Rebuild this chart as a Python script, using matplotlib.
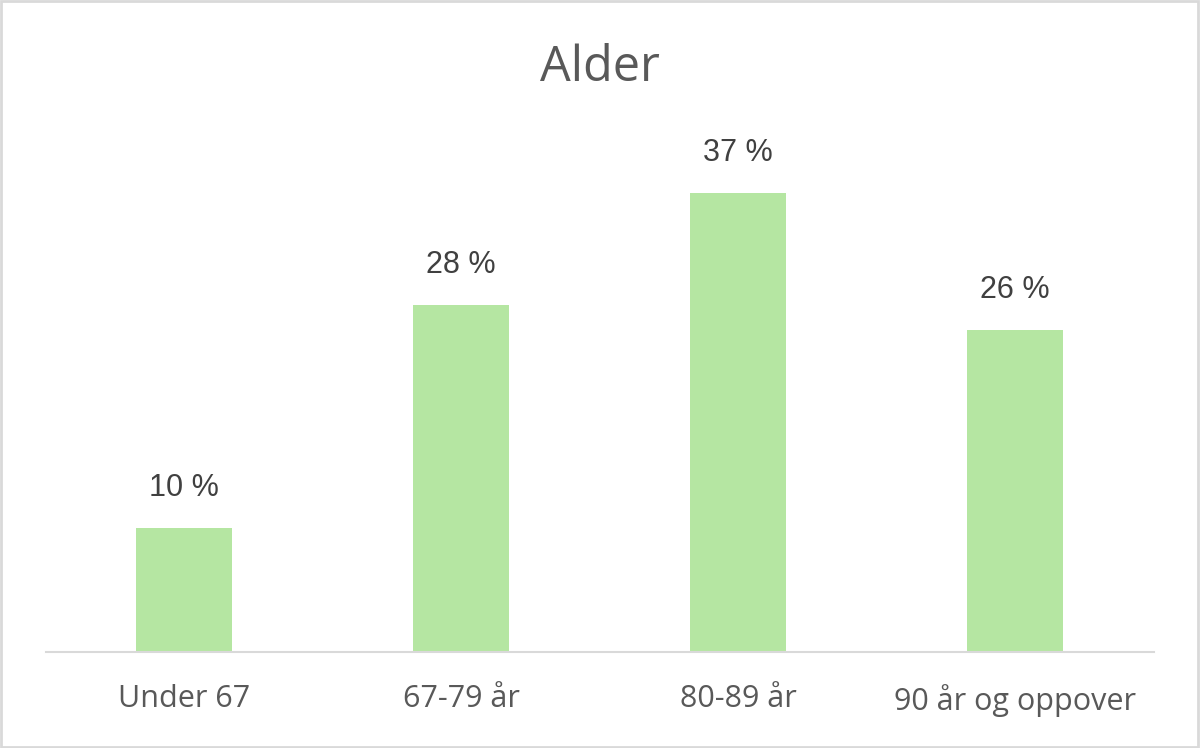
import matplotlib
matplotlib.use("Agg")
import matplotlib.pyplot as plt
from matplotlib.patches import Rectangle

categories = ["Under 67", "67-79 år", "80-89 år", "90 år og oppover"]
values = [10, 28, 37, 26]
value_labels = ["10 %", "28 %", "37 %", "26 %"]
title = "Alder"

W, H = 1200, 748
fig = plt.figure(figsize=(W / 100, H / 100), dpi=100)
fig.patch.set_facecolor("white")

left, right = 45.5 / W, 1153.5 / W
bottom = 1 - 652 / H
top = 1 - 156 / H
ax = fig.add_axes([left, bottom, right - left, top - bottom])

x = list(range(len(categories)))
ax.bar(x, values, width=0.35, color="#B5E6A2", zorder=2)
ax.set_xlim(-0.5, len(categories) - 0.5)
ax.set_ylim(0, 40)

for xi, v, lab in zip(x, values, value_labels):
    ax.annotate(lab, (xi, v), xytext=(0, 18), textcoords="offset points",
                ha="center", va="bottom", fontsize=22, color="#404040",
                family="Liberation Sans")

ax.set_xticks(x)
ax.set_xticklabels(categories, fontsize=22, color="#595959", family="Open Sans")
ax.tick_params(axis="x", length=0, pad=23)
ax.set_yticks([])
for s in ["left", "right", "top"]:
    ax.spines[s].set_visible(False)
ax.spines["bottom"].set_color("#D9D9D9")
ax.spines["bottom"].set_linewidth(1.5)

fig.text(0.5, 1 - 68 / H, title, ha="center", va="center", fontsize=35,
         color="#595959", family="Open Sans")

fig.patches.append(Rectangle((0.001, 0.002), 0.997, 0.996, transform=fig.transFigure,
                             fill=False, edgecolor="#D9D9D9", linewidth=2))

fig.savefig("out.png", dpi=100, facecolor="white")
